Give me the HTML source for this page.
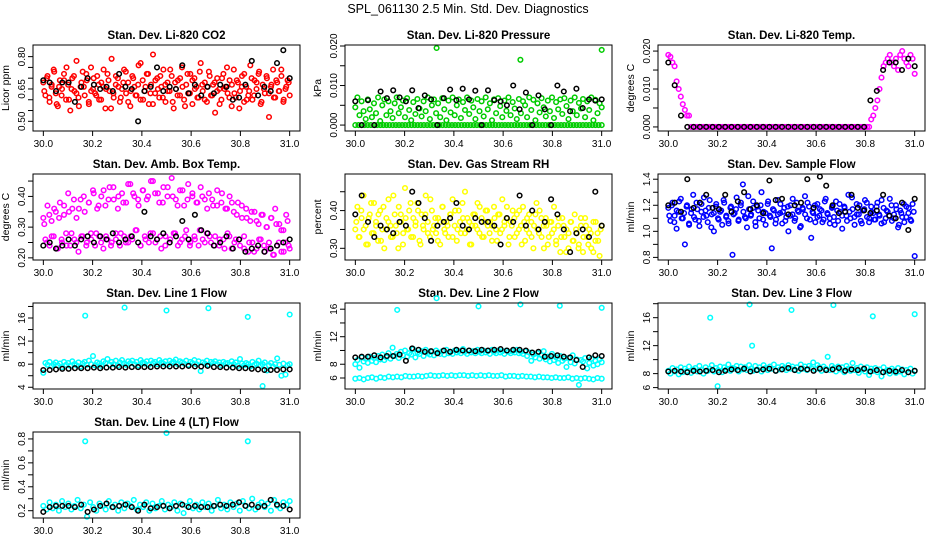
<!DOCTYPE html>
<html><head><meta charset="utf-8"><style>
html,body{margin:0;padding:0;background:#fff;}
svg{display:block;font-family:"Liberation Sans",sans-serif;}
</style></head><body>
<svg id="chart" width="936" height="540" viewBox="0 0 936 540">
<text x="468" y="13" text-anchor="middle" font-size="12.5">SPL_061130  2.5 Min. Std. Dev. Diagnostics</text>
</svg>
<script>
const xTicks = [30.0,30.2,30.4,30.6,30.8,31.0];
const xTickLabels = ["30.0","30.2","30.4","30.6","30.8","31.0"];
const outlierTimes = [30.17,30.33,30.5,30.67,30.83,31.0];

const co2Red = [0.68,0.62,0.71,0.59,0.66,0.74,0.63,0.57,0.69,0.65,0.72,0.60,0.67,0.55,0.70,0.64,0.78,0.61,0.66,0.73,
0.62,0.69,0.58,0.75,0.65,0.63,0.71,0.60,0.68,0.66,0.56,0.72,0.64,0.79,0.61,0.67,0.70,0.59,0.65,0.74,
0.63,0.68,0.57,0.71,0.66,0.62,0.76,0.60,0.69,0.64,0.72,0.58,0.67,0.81,0.63,0.70,0.61,0.66,0.74,0.59,
0.68,0.64,0.71,0.56,0.65,0.69,0.62,0.75,0.60,0.67,0.63,0.72,0.58,0.70,0.66,0.61,0.77,0.64,0.68,0.59,
0.73,0.62,0.67,0.54,0.70,0.65,0.60,0.72,0.66,0.63,0.69,0.57,0.74,0.61,0.68,0.64,0.71,0.59,0.66,0.62,
0.76,0.60,0.69,0.65,0.72,0.58,0.67,0.63,0.70,0.52,0.66,0.74,0.61,0.68,0.64,0.71,0.59,0.65,0.69,0.62];
const co2Red2 = [0.64,0.70,0.61,0.67,0.73,0.58,0.66,0.62,0.69,0.75,0.60,0.65,0.71,0.63,0.57,0.68,0.66,0.72,0.59,0.64,
0.70,0.62,0.67,0.60,0.74,0.65,0.69,0.56,0.63,0.71,0.66,0.61,0.68,0.73,0.59,0.64,0.70,0.62,0.67,0.77,
0.60,0.66,0.72,0.63,0.58,0.69,0.65,0.71,0.61,0.67,0.64,0.74,0.59,0.68,0.62,0.70,0.66,0.57,0.72,0.63,
0.69,0.65,0.61,0.73,0.67,0.60,0.66,0.71,0.62,0.68,0.64,0.58,0.70,0.65,0.75,0.61,0.67,0.63,0.69,0.56,
0.66,0.72,0.60,0.64,0.70,0.62,0.68,0.73,0.59,0.65,0.71,0.63,0.67,0.61,0.69,0.64,0.74,0.60,0.66,0.68];
const co2Black = [0.69,0.68,0.64,0.68,0.68,0.59,0.66,0.70,0.67,0.65,0.66,0.64,0.72,0.66,0.65,0.50,0.64,0.66,0.75,0.64,
0.66,0.65,0.76,0.63,0.67,0.62,0.66,0.63,0.67,0.66,0.60,0.61,0.67,0.78,0.62,0.66,0.64,0.77,0.83,0.70];

const presGreen = [0.0045,0.0070,0.0025,0.0060,0.0035,0.0015,0.0065,0.0040,0.0020,0.0055,0.0030,0.0070,0.0010,0.0050,0.0065,0.0025,0.0060,0.0035,0.0018,0.0055,
0.0070,0.0030,0.0045,0.0062,0.0020,0.0068,0.0038,0.0012,0.0058,0.0028,0.0066,0.0042,0.0022,0.0060,0.0035,0.0070,0.0015,0.0050,0.0065,0.0030,
0.0055,0.0020,0.0068,0.0040,0.0012,0.0062,0.0032,0.0070,0.0025,0.0050,0.0065,0.0018,0.0058,0.0038,0.0070,0.0028,0.0062,0.0045,0.0015,0.0066,
0.0035,0.0060,0.0022,0.0070,0.0040,0.0055,0.0012,0.0065,0.0030,0.0068,0.0048,0.0020,0.0062,0.0036,0.0070,0.0025,0.0058,0.0042,0.0015,0.0066,
0.0030,0.0060,0.0050,0.0020,0.0070,0.0038,0.0064,0.0012,0.0055,0.0032,0.0068,0.0045,0.0022,0.0062,0.0035,0.0070,0.0018,0.0058,0.0040,0.0065,
0.0028,0.0068,0.0048,0.0015,0.0062,0.0035,0.0070,0.0025,0.0056,0.0042,0.0066,0.0020,0.0060,0.0038,0.0070,0.0012,0.0064,0.0030,0.0055,0.0045];
const presZero = [0,0,0,0,0,0,0,0,0,0,0,0,0,0,0,0,0,0,0,0,0,0,0,0,0,0,0,0,0,0,0,0,0,0,0,0,0,0,0,0,0,0,0,0,0,0,0,0,0,0,0,0,0,0,0,0,0,0,0,0,0,0,0,0,0,0,0,0,0,0,0,0,0,0,0,0,0,0,0,0];
const presOutTimes = [30.33,30.67,31.0];
const presOut = [0.0195,0.0165,0.0190];
const presBlack = [0.0060,0.0000,0.0063,0.0000,0.0085,0.0068,0.0088,0.0070,0.0060,0.0088,0.0043,0.0075,0.0065,0.0000,0.0068,0.0090,0.0063,0.0092,0.0065,0.0087,
0.0000,0.0088,0.0063,0.0060,0.0050,0.0100,0.0040,0.0082,0.0000,0.0075,0.0040,0.0000,0.0100,0.0085,0.0035,0.0092,0.0043,0.0065,0.0062,0.0065];

const tempMag = [0.019,0.0185,0.017,0.016,0.012,0.010,0.008,0.006,0.0045,0.003,0.003,
0,0,0,0,0,0,0,0,0,0,0,0,0,0,0,0,0,0,0,0,0,0,0,0,0,0,0,0,0,0,0,0,0,0,0,0,0,0,0,0,0,0,0,0,0,0,0,0,0,0,0,0,0,0,0,0,0,0,0,0,0,0,0,0,0,0,0,0,0,0,0,0,0,0,0,0,0,0,0,0,0,0,0,0,0,0,0,
0.002,0.003,0.005,0.007,0.010,0.013,0.016,0.017,0.018,0.019,0.017,0.016,0.018,0.015,0.019,0.020,0.018,0.017,0.016,0.019,0.018,0.014];
const tempBlack = [0.017,0.011,0.003,0,0,0,0,0,0,0,0,0,0,0,0,0,0,0,0,0,0,0,0,0,0,0,0,0,0,0,0,0,0.007,0.0095,0.015,0.017,0.017,0.015,0.018,0.016];

const ambMag = [0.33,0.26,0.37,0.24,0.32,0.27,0.35,0.23,0.38,0.25,0.34,0.28,0.41,0.24,0.36,0.26,0.33,0.22,0.39,0.27,
0.35,0.25,0.38,0.28,0.42,0.24,0.36,0.27,0.40,0.23,0.37,0.26,0.43,0.25,0.39,0.28,0.36,0.24,0.41,0.27,
0.38,0.25,0.44,0.26,0.40,0.29,0.37,0.24,0.42,0.27,0.39,0.25,0.45,0.28,0.41,0.26,0.38,0.23,0.43,0.27,
0.40,0.25,0.46,0.28,0.39,0.24,0.42,0.26,0.37,0.29,0.44,0.25,0.40,0.27,0.38,0.24,0.43,0.26,0.39,0.28,
0.41,0.25,0.37,0.27,0.42,0.24,0.38,0.26,0.36,0.28,0.40,0.23,0.35,0.26,0.38,0.24,0.33,0.27,0.36,0.22,
0.32,0.25,0.35,0.23,0.31,0.26,0.34,0.22,0.30,0.25,0.33,0.21,0.36,0.24,0.31,0.22,0.29,0.25,0.32,0.23];
const ambMag2 = [0.31,0.25,0.34,0.27,0.36,0.23,0.33,0.26,0.37,0.24,0.35,0.28,0.39,0.25,0.36,0.27,0.40,0.24,0.38,0.26,
0.41,0.28,0.37,0.25,0.42,0.27,0.39,0.24,0.43,0.26,0.40,0.28,0.38,0.25,0.44,0.27,0.41,0.29,0.39,0.24,
0.42,0.26,0.40,0.28,0.45,0.25,0.41,0.27,0.38,0.24,0.43,0.26,0.40,0.28,0.37,0.25,0.42,0.27,0.39,0.24,
0.41,0.26,0.38,0.29,0.40,0.25,0.36,0.27,0.39,0.24,0.37,0.26,0.41,0.23,0.36,0.27,0.38,0.25,0.34,0.26,
0.37,0.23,0.33,0.25,0.35,0.22,0.32,0.26,0.34,0.24,0.30,0.23,0.33,0.21,0.31,0.25,0.29,0.22,0.34,0.24];
const ambBlack = [0.24,0.25,0.23,0.24,0.26,0.24,0.26,0.27,0.25,0.27,0.26,0.28,0.25,0.26,0.27,0.25,0.35,0.27,0.26,0.28,
0.25,0.27,0.32,0.26,0.34,0.29,0.28,0.24,0.25,0.27,0.23,0.26,0.22,0.23,0.24,0.22,0.23,0.24,0.25,0.26];

const rhYellow = [0.35,0.41,0.33,0.38,0.44,0.36,0.31,0.39,0.34,0.42,0.37,0.32,0.40,0.35,0.30,0.38,0.43,0.36,0.33,0.39,
0.34,0.41,0.37,0.31,0.46,0.35,0.40,0.33,0.38,0.36,0.42,0.32,0.39,0.35,0.44,0.37,0.33,0.40,0.36,0.34,
0.38,0.31,0.41,0.35,0.37,0.33,0.39,0.43,0.36,0.32,0.40,0.34,0.38,0.45,0.35,0.37,0.31,0.39,0.36,0.42,
0.34,0.38,0.33,0.40,0.36,0.37,0.32,0.41,0.35,0.39,0.34,0.43,0.36,0.38,0.31,0.37,0.40,0.33,0.39,0.35,
0.36,0.41,0.32,0.38,0.34,0.37,0.30,0.39,0.35,0.40,0.33,0.36,0.38,0.31,0.37,0.34,0.41,0.32,0.36,0.29,
0.38,0.33,0.35,0.30,0.37,0.32,0.39,0.34,0.31,0.36,0.29,0.38,0.33,0.35,0.30,0.37,0.32,0.34,0.28,0.36];
const rhYellow2 = [0.37,0.33,0.40,0.35,0.31,0.38,0.42,0.34,0.36,0.39,0.32,0.41,0.35,0.37,0.33,0.44,0.36,0.30,0.39,0.34,
0.38,0.35,0.42,0.33,0.37,0.40,0.31,0.36,0.39,0.34,0.43,0.35,0.38,0.32,0.37,0.41,0.34,0.36,0.39,0.33,
0.40,0.35,0.37,0.42,0.34,0.38,0.31,0.36,0.39,0.35,0.41,0.33,0.37,0.40,0.34,0.36,0.38,0.32,0.39,0.35,
0.37,0.41,0.33,0.36,0.38,0.34,0.40,0.31,0.37,0.35,0.39,0.33,0.36,0.42,0.34,0.38,0.30,0.36,0.33,0.37,
0.35,0.31,0.38,0.33,0.36,0.29,0.34,0.37,0.32,0.35,0.30,0.38,0.33,0.36,0.31,0.34,0.29,0.37,0.32,0.35];
const rhBlack = [0.39,0.44,0.37,0.33,0.36,0.35,0.34,0.37,0.36,0.45,0.42,0.38,0.32,0.36,0.37,0.38,0.42,0.36,0.35,0.38,
0.37,0.37,0.36,0.31,0.38,0.37,0.44,0.36,0.40,0.35,0.37,0.43,0.39,0.35,0.29,0.34,0.35,0.33,0.45,0.36];

const flowBlue = [1.18,1.08,1.22,1.12,1.02,1.15,1.25,1.10,0.90,1.20,1.06,1.14,1.28,1.09,1.17,1.04,1.21,1.11,1.16,1.07,
1.24,1.13,1.00,1.19,1.10,1.15,1.05,1.22,1.12,1.08,1.18,0.82,1.14,1.26,1.09,1.20,1.36,1.11,1.03,1.17,
1.13,1.23,1.07,1.19,1.10,1.30,1.15,1.05,1.21,1.12,0.87,1.16,1.09,1.24,1.14,1.06,1.18,1.11,1.00,1.20,
1.13,1.08,1.22,1.15,1.04,1.17,1.27,1.10,1.19,0.95,1.14,1.07,1.21,1.12,1.16,1.09,1.25,1.13,1.06,1.18,
1.11,1.23,1.08,1.15,1.02,1.19,1.12,1.28,1.10,1.17,1.05,1.21,1.13,1.08,1.16,1.24,1.11,1.07,1.19,1.14,
1.09,1.22,1.12,1.06,1.18,1.10,1.15,1.25,1.08,1.13,1.20,1.03,1.16,1.11,1.07,1.19,1.14,1.09,1.21,0.81];
const flowBlue2 = [1.12,1.20,1.07,1.16,1.23,1.10,1.14,1.19,1.05,1.17,1.11,1.22,1.08,1.15,1.26,1.12,1.18,1.03,1.14,1.21,
1.09,1.16,1.24,1.11,1.06,1.19,1.13,1.17,1.08,1.22,1.15,1.10,1.27,1.12,1.18,1.04,1.16,1.20,1.09,1.14,
1.23,1.11,1.17,1.06,1.13,1.21,1.15,1.08,1.19,1.12,1.25,1.10,1.16,1.03,1.18,1.13,1.22,1.09,1.15,1.20,
1.11,1.17,1.07,1.23,1.14,1.10,1.19,1.05,1.16,1.21,1.12,1.18,1.08,1.15,1.26,1.11,1.13,1.20,1.06,1.17,
1.22,1.10,1.15,1.09,1.19,1.13,1.24,1.07,1.16,1.12,1.20,1.10,1.17,1.05,1.14,1.21,1.11,1.18,1.08,1.15];
const flowBlack = [1.20,1.22,1.15,1.40,1.18,1.22,1.28,1.18,1.17,1.28,1.15,1.23,1.30,1.17,1.20,1.14,1.39,1.24,1.25,1.13,
1.20,1.22,1.40,1.18,1.42,1.35,1.20,1.14,1.15,1.28,1.18,1.16,1.14,1.16,1.28,1.12,1.10,1.22,1.01,1.25];

const line1Cyan = [6.5,8.2,7.9,8.4,7.7,8.0,8.3,7.8,8.1,7.5,8.4,7.9,8.2,7.7,8.5,8.0,7.8,8.3,7.6,8.1,
8.4,7.9,8.6,8.0,9.4,7.8,8.3,8.1,7.7,8.5,8.2,8.9,7.9,8.4,8.0,8.6,7.8,8.3,8.7,8.1,
7.9,8.5,8.2,8.6,8.0,8.4,7.8,8.7,8.3,8.1,8.5,7.9,8.6,8.2,8.4,8.0,8.7,8.3,8.1,8.5,
7.9,8.6,8.2,8.4,8.8,8.0,8.5,8.3,8.1,8.6,7.9,8.4,8.2,8.7,8.0,8.5,6.8,8.3,8.1,8.6,
7.9,8.4,8.2,8.5,8.0,8.3,7.8,8.4,8.1,8.2,7.9,8.5,8.0,8.3,7.7,8.9,8.1,7.8,8.2,8.0,
7.6,8.4,7.9,8.1,8.6,7.7,8.0,8.3,6.9,7.8,8.2,7.6,8.0,9.0,7.9,6.0,8.1,6.2,7.8,8.0];
const line1Out = [16.4,17.8,17.3,17.7,16.2,16.6];
const line1Black = [7.0,7.0,7.1,7.2,7.2,7.3,7.3,7.3,7.4,7.3,7.4,7.4,7.5,7.4,7.5,7.5,7.5,7.5,7.6,7.6,
7.6,7.6,7.6,7.7,7.6,7.6,7.7,7.5,7.5,7.4,7.4,7.3,7.3,7.2,7.1,7.0,7.0,7.0,7.1,7.1];

const line2Upper = [8.0,8.6,7.5,9.0,8.4,8.8,8.2,9.1,8.5,8.9,8.3,9.2,8.7,9.4,8.6,9.0,9.6,8.8,10.4,9.2,
9.5,8.9,9.8,9.3,10.0,9.1,9.6,9.4,10.2,9.0,9.7,9.5,9.9,9.2,10.1,9.6,9.4,9.8,9.3,10.0,
9.7,9.5,9.9,9.4,10.1,9.6,9.8,9.5,10.0,9.7,9.9,9.6,10.2,9.8,9.5,10.0,9.7,9.9,9.6,10.1,
9.8,9.6,10.0,9.7,9.9,9.5,10.1,9.8,9.6,10.0,9.7,9.9,9.5,10.0,9.8,9.6,9.9,9.7,10.1,9.6,
9.8,9.5,9.9,9.2,9.7,8.5,9.4,9.0,9.6,8.8,9.3,9.9,8.7,9.1,8.4,9.5,8.6,9.0,8.2,9.2,
8.5,8.8,7.6,8.9,8.3,9.3,8.1,8.7,5.0,8.6,8.4,8.9,7.4,8.2,8.8,7.8,8.5,8.0,8.7,8.3];
const line2Lower = [5.9,6.0,5.8,6.0,6.1,5.9,6.1,6.0,6.2,6.1,6.2,6.1,6.3,6.2,6.2,6.3,6.2,6.3,6.4,6.3,
6.3,6.4,6.3,6.4,6.3,6.4,6.4,6.3,6.4,6.3,6.4,6.3,6.4,6.3,6.3,6.4,6.2,6.3,6.3,6.2,
6.3,6.2,6.2,6.1,6.2,6.1,6.1,6.0,6.1,6.0,6.0,6.1,5.9,6.0,5.9,6.0,5.9,5.8,6.0,5.9];
const line2Out = [15.9,17.6,16.4,16.7,16.5,16.2];
const line2Black = [9.0,9.1,9.1,9.3,9.0,9.2,9.2,9.4,8.5,10.3,10.1,9.8,9.9,9.6,10.0,9.8,10.1,10.0,10.0,9.9,
10.1,10.0,10.1,10.2,10.0,10.1,10.1,10.0,9.7,9.8,9.1,9.2,9.3,9.1,9.0,8.6,7.6,9.0,9.3,9.2];

const line3Cyan = [8.4,8.0,8.8,8.3,8.6,7.9,8.9,8.2,8.7,8.4,9.0,8.1,8.6,8.8,8.3,9.1,8.5,8.0,8.9,8.4,
8.7,9.2,8.3,8.8,8.5,9.0,8.2,8.9,8.6,9.3,8.4,8.8,8.7,9.1,8.3,9.0,8.6,8.9,8.5,9.2,
8.7,8.4,9.1,8.6,8.9,8.3,9.2,8.8,8.5,9.0,8.7,9.3,8.4,8.9,8.6,9.1,8.8,8.5,9.2,8.7,
9.0,8.6,8.9,8.4,9.3,8.7,9.0,8.5,9.1,8.8,9.6,8.6,9.2,8.9,8.4,9.0,8.7,10.4,8.5,9.1,
8.8,8.3,9.0,8.6,8.9,8.2,9.1,8.7,8.4,9.5,8.5,8.8,8.1,9.0,8.6,8.3,8.9,7.8,8.7,8.4,
8.8,8.2,8.6,7.6,8.9,8.3,8.5,8.0,8.7,8.4,8.1,8.8,8.3,8.6,7.9,8.5,8.2,8.7,8.0,8.4];
const line3OutTimes = [30.17,30.33,30.5,30.67,30.83,31.0,30.34,30.2];
const line3Out = [16.0,17.9,17.1,17.8,16.2,16.5,12.0,6.2];
const line3Black = [8.3,8.4,8.3,8.2,8.4,8.3,8.4,8.5,8.2,8.4,8.6,8.5,8.7,8.3,8.5,8.6,8.7,8.4,8.6,8.8,
8.5,8.7,8.6,8.4,8.7,8.5,8.6,8.8,8.4,8.6,8.5,8.7,8.3,8.5,8.2,8.4,8.3,8.5,8.2,8.4];

const line4Cyan = [0.24,0.21,0.27,0.22,0.25,0.20,0.28,0.23,0.26,0.21,0.24,0.29,0.22,0.25,0.15,0.27,0.23,0.20,0.26,0.24,
0.21,0.28,0.23,0.25,0.20,0.27,0.22,0.26,0.24,0.29,0.21,0.25,0.23,0.27,0.20,0.26,0.22,0.24,0.28,0.21,
0.25,0.23,0.27,0.20,0.26,0.18,0.24,0.28,0.22,0.25,0.21,0.27,0.23,0.26,0.20,0.24,0.29,0.22,0.25,0.21,
0.27,0.23,0.26,0.20,0.28,0.24,0.22,0.30,0.21,0.25,0.27,0.23,0.26,0.20,0.29,0.24,0.22,0.27,0.25,0.28];
const line4OutTimes = [30.17,30.5,30.83];
const line4Out = [0.78,0.85,0.78];
const line4Black = [0.19,0.23,0.24,0.24,0.24,0.23,0.25,0.19,0.21,0.24,0.26,0.23,0.24,0.25,0.23,0.20,0.25,0.22,0.23,0.24,
0.22,0.24,0.25,0.23,0.24,0.23,0.23,0.24,0.25,0.24,0.25,0.27,0.24,0.25,0.23,0.24,0.29,0.25,0.24,0.21];

const panels = [
 {name:"co2",title:"Stan. Dev. Li-820 CO2",ylab:"Licor ppm",col:0,row:0,ylim:[0.455,0.854],ticks:[0.50,0.55,0.60,0.65,0.70,0.75,0.80],labels:{"0.5":"0.50","0.65":"0.65","0.8":"0.80"},
  series:[{y:co2Red,c:"#ff0000"},{y:co2Red2,c:"#ff0000",off:0.004},{y:co2Black,c:"#000"}]},
 {name:"pressure",title:"Stan. Dev. Li-820 Pressure",ylab:"kPa",col:1,row:0,ylim:[-0.0015,0.02025],ticks:[0,0.005,0.010,0.015,0.020],labels:{"0":"0.000","0.01":"0.010","0.02":"0.020"},
  series:[{y:presZero,c:"#00cc00"},{y:presGreen,c:"#00cc00"},{y:presOut,x:presOutTimes,c:"#00cc00"},{y:presBlack,c:"#000"}]},
 {name:"temp",title:"Stan. Dev. Li-820 Temp.",ylab:"degrees C",col:2,row:0,ylim:[-0.00107,0.0216],ticks:[0,0.005,0.010,0.015,0.020],labels:{"0":"0.000","0.01":"0.010","0.02":"0.020"},
  series:[{y:tempMag,c:"#ff00ff"},{y:tempBlack,c:"#000"}]},
 {name:"amb-temp",title:"Stan. Dev. Amb. Box Temp.",ylab:"degrees C",col:0,row:1,ylim:[0.193,0.473],ticks:[0.20,0.25,0.30,0.35,0.40,0.45],labels:{"0.2":"0.20","0.3":"0.30","0.4":"0.40"},
  series:[{y:ambMag,c:"#ff00ff"},{y:ambMag2,c:"#ff00ff",off:0.004},{y:ambBlack,c:"#000"}]},
 {name:"rh",title:"Stan. Dev. Gas Stream RH",ylab:"percent",col:1,row:1,ylim:[0.269,0.497],ticks:[0.30,0.35,0.40,0.45],labels:{"0.3":"0.30","0.4":"0.40"},
  series:[{y:rhYellow,c:"#ffff00"},{y:rhYellow2,c:"#ffff00",off:0.004},{y:rhBlack,c:"#000"}]},
 {name:"sample-flow",title:"Stan. Dev. Sample Flow",ylab:"ml/min",col:2,row:1,ylim:[0.78,1.44],ticks:[0.8,0.9,1.0,1.1,1.2,1.3,1.4],labels:{"0.8":"0.8","1":"1.0","1.2":"1.2","1.4":"1.4"},
  series:[{y:flowBlue,c:"#0000ff"},{y:flowBlue2,c:"#0000ff",off:0.004},{y:flowBlack,c:"#000"}]},
 {name:"line1",title:"Stan. Dev. Line 1 Flow",ylab:"ml/min",col:0,row:2,ylim:[3.7,18.6],ticks:[4,6,8,10,12,14,16,18],labels:{"4":"4","8":"8","12":"12","16":"16"},
  series:[{y:line1Cyan,c:"#00ffff"},{y:line1Out,x:outlierTimes,c:"#00ffff"},{y:[4.2],x:[30.89],c:"#00ffff"},{y:line1Black,c:"#000"}]},
 {name:"line2",title:"Stan. Dev. Line 2 Flow",ylab:"ml/min",col:1,row:2,ylim:[4.4,16.9],ticks:[6,8,10,12,14,16],labels:{"6":"6","8":"8","12":"12","16":"16"},
  series:[{y:line2Upper,c:"#00ffff"},{y:line2Lower,c:"#00ffff"},{y:line2Out,x:outlierTimes,c:"#00ffff"},{y:line2Black,c:"#000"}]},
 {name:"line3",title:"Stan. Dev. Line 3 Flow",ylab:"ml/min",col:2,row:2,ylim:[5.8,18.1],ticks:[6,8,10,12,14,16,18],labels:{"6":"6","8":"8","12":"12","16":"16"},
  series:[{y:line3Cyan,c:"#00ffff"},{y:line3Out,x:line3OutTimes,c:"#00ffff"},{y:line3Black,c:"#000"}]},
 {name:"line4",title:"Stan. Dev. Line 4 (LT) Flow",ylab:"ml/min",col:0,row:3,ylim:[0.139,0.858],ticks:[0.2,0.3,0.4,0.5,0.6,0.7,0.8],labels:{"0.2":"0.2","0.4":"0.4","0.6":"0.6","0.8":"0.8"},
  series:[{y:line4Cyan,c:"#00ffff"},{y:line4Out,x:line4OutTimes,c:"#00ffff"},{y:line4Black,c:"#000"}]}
];

const NS="http://www.w3.org/2000/svg";
const svg=document.getElementById('chart');
const colLeft=[33,345,658], rowTop=[45,174,303,432], BW=267, BH=86, XL=[29.958,31.042];
function mk(tag,attrs,parent){const e=document.createElementNS(NS,tag);for(const k in attrs)e.setAttribute(k,attrs[k]);parent.appendChild(e);return e;}

panels.forEach(p=>{
  const L=colLeft[p.col], T=rowTop[p.row];
  const g=mk('g',{},svg);
  
  
  const xs=v=>L+(v-XL[0])/(XL[1]-XL[0])*BW;
  const ys=v=>T+BH-(v-p.ylim[0])/(p.ylim[1]-p.ylim[0])*BH;
  const t=mk('text',{x:L+BW/2,y:T-6,'text-anchor':'middle','font-size':'11.5','font-weight':'bold'},g);
  t.textContent=p.title;
  
  
  const marks=mk('g',{fill:'none','stroke-width':'1.5'},g);
  
  
  p.series.forEach(s=>{
    const n=s.y.length;
    s.y.forEach((v,i)=>{
      const xv=s.x?s.x[i]:30+(s.off||0)+(n>1?i/(n-1):0)*(1-2*(s.off||0));
      const c=mk('circle',{cx:xs(xv).toFixed(1),cy:ys(v).toFixed(1),r:'2.3',stroke:s.c},marks);
      
      
    });
  });
  const box=mk('rect',{x:L,y:T,width:BW,height:BH,fill:'none',stroke:'#000','stroke-width':'1'},g);
  
  
  const xa=mk('g',{},g);
  
  
  xTicks.forEach((v,i)=>{
    const x=xs(v);
    mk('line',{x1:x,x2:x,y1:T+BH,y2:T+BH+5,stroke:'#000'},xa);
    const lt=mk('text',{x:x,y:T+BH+16,'text-anchor':'middle','font-size':'10'},xa);
    lt.textContent=xTickLabels[i];
    
    
  });
  const ya=mk('g',{},g);
  
  
  p.ticks.forEach(v=>{
    const y=ys(v);
    mk('line',{x1:L-5,x2:L,y1:y,y2:y,stroke:'#000'},ya);
    const key=String(+v.toFixed(6));
    if(p.labels[key]!==undefined){
      const lt=mk('text',{x:L-8,y:y,'text-anchor':'middle','font-size':'10',transform:`rotate(-90 ${L-8} ${y})`},ya);
      lt.textContent=p.labels[key];
      
      
    }
  });
  const yl=mk('text',{x:L-24,y:T+BH/2,'text-anchor':'middle','font-size':'10.5',transform:`rotate(-90 ${L-24} ${T+BH/2})`},g);
  yl.textContent=p.ylab;
  
  
});
</script>
</body></html>
